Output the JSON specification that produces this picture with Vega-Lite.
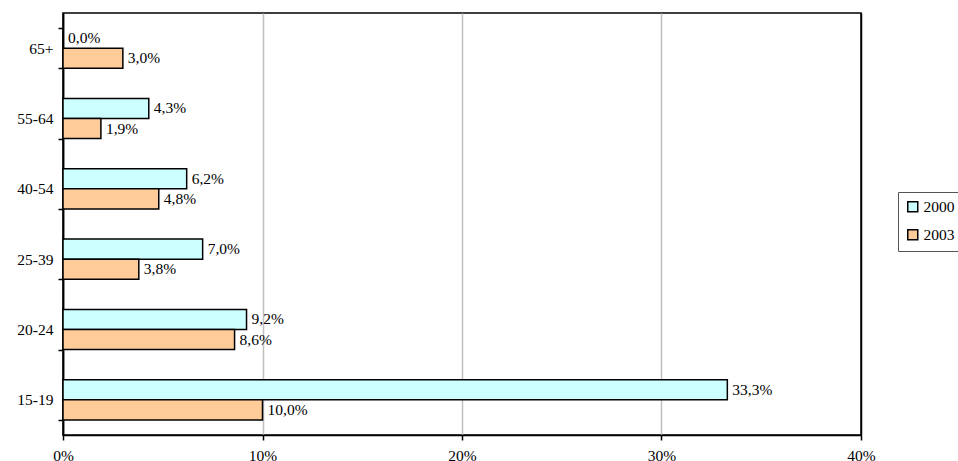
{
  "$schema": "https://vega.github.io/schema/vega-lite/v6.json",
  "autosize": "none",
  "width": 798,
  "height": 422,
  "padding": {"left": 63, "top": 13, "right": 97, "bottom": 26},
  "background": "white",
  "title": {
    "text": "ΗΛΙΚΙΑΚΗ ΟΜΑΔΑ ΤΟ 2000 ΚΑΙ ΤΟ 2003",
    "font": "Liberation Serif",
    "fontSize": 17,
    "fontWeight": "bold",
    "color": "black",
    "baseline": "alphabetic",
    "offset": 1,
    "dx": 9
  },
  "data": {
    "values": [
      {"age": "15-19", "year": "2000", "share": 0.333},
      {"age": "15-19", "year": "2003", "share": 0.100},
      {"age": "20-24", "year": "2000", "share": 0.092},
      {"age": "20-24", "year": "2003", "share": 0.086},
      {"age": "25-39", "year": "2000", "share": 0.070},
      {"age": "25-39", "year": "2003", "share": 0.038},
      {"age": "40-54", "year": "2000", "share": 0.062},
      {"age": "40-54", "year": "2003", "share": 0.048},
      {"age": "55-64", "year": "2000", "share": 0.043},
      {"age": "55-64", "year": "2003", "share": 0.019},
      {"age": "65+", "year": "2000", "share": 0.000},
      {"age": "65+", "year": "2003", "share": 0.030}
    ]
  },
  "transform": [
    {"calculate": "replace(format(datum.share, '.1%'), '.', ',')", "as": "label"}
  ],
  "encoding": {
    "y": {
      "field": "age",
      "type": "nominal",
      "sort": ["65+", "55-64", "40-54", "25-39", "20-24", "15-19"],
      "scale": {"paddingInner": 0.43, "paddingOuter": 0.215},
      "title": null,
      "axis": {
        "tickBand": "extent",
        "domainColor": "black",
        "domainWidth": 1.5,
        "tickColor": "black",
        "tickWidth": 1.5,
        "tickSize": 5,
        "labelPadding": 5,
        "labelFont": "Liberation Serif",
        "labelFontSize": 15.5,
        "labelColor": "black"
      }
    },
    "yOffset": {
      "field": "year",
      "type": "nominal",
      "scale": {"paddingInner": 0, "paddingOuter": 0}
    },
    "x": {
      "field": "share",
      "type": "quantitative",
      "scale": {"domain": [0, 0.4], "nice": false},
      "title": null,
      "axis": {
        "values": [0, 0.1, 0.2, 0.3, 0.4],
        "format": ".0%",
        "labelFlush": false,
        "grid": true,
        "gridColor": {"condition": {"test": "datum.value === 0 || datum.value === 0.4", "value": "black"}, "value": "#c0c0c0"},
        "gridWidth": 1.5,
        "domainColor": "black",
        "domainWidth": 1.5,
        "tickColor": "black",
        "tickWidth": 1.5,
        "tickSize": 5,
        "labelPadding": 8,
        "labelFont": "Liberation Serif",
        "labelFontSize": 15.5,
        "labelColor": "black"
      }
    }
  },
  "layer": [
    {
      "mark": {"type": "bar", "stroke": "black", "strokeWidth": 1.5},
      "encoding": {
        "color": {
          "field": "year",
          "type": "nominal",
          "title": null,
          "scale": {"domain": ["2000", "2003"], "range": ["#CCFFFF", "#FFCC99"]},
          "legend": {
            "orient": "none",
            "legendX": 835,
            "legendY": 179,
            "symbolType": "square",
            "symbolSize": 100,
            "symbolStrokeColor": "black",
            "symbolStrokeWidth": 1.5,
            "labelFont": "Liberation Serif",
            "labelFontSize": 15.5,
            "labelColor": "black",
            "labelOffset": 3,
            "rowPadding": 10,
            "padding": 7,
            "strokeColor": "#555555"
          }
        }
      }
    },
    {
      "mark": {
        "type": "text",
        "align": "left",
        "baseline": "middle",
        "dx": 5,
        "font": "Liberation Serif",
        "fontSize": 15.5,
        "color": "black"
      },
      "encoding": {
        "text": {"field": "label", "type": "nominal"}
      }
    }
  ],
  "config": {
    "view": {"stroke": "black", "strokeWidth": 1.5}
  }
}
